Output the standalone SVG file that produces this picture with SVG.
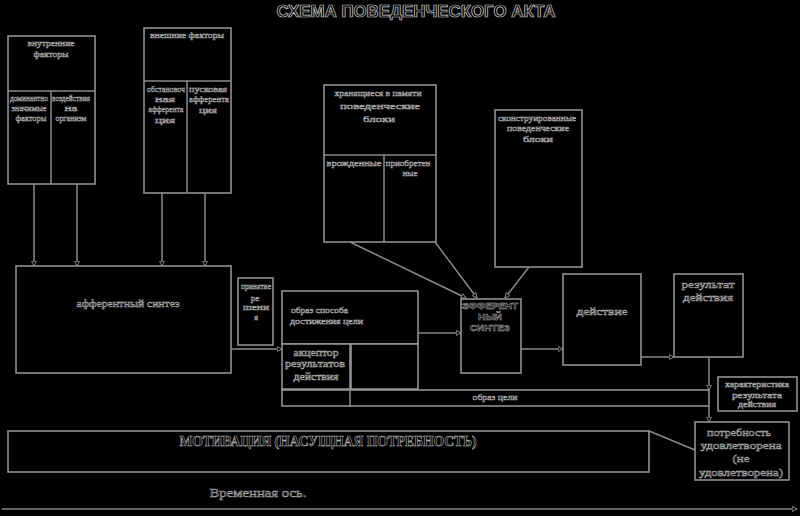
<svg xmlns="http://www.w3.org/2000/svg" width="800" height="516" viewBox="0 0 800 516">
<defs>
<style>
.bx{fill:#000;stroke:#9a9a9a;stroke-width:1.5}
.ln{fill:none;stroke:#8a8a8a;stroke-width:1.5}
.t{font-family:"Liberation Serif","DejaVu Serif",serif;font-size:9px;fill:#000;stroke:#b0b0b0;stroke-width:0.5;text-anchor:middle}
.tl{text-anchor:start}
.m{font-size:10.5px}
.s{font-size:9.5px}
.big{font-size:14px;font-weight:bold;stroke-width:0.6}
.ttl{font-family:"Liberation Sans","DejaVu Sans",sans-serif;font-size:16px;font-weight:bold;fill:#000;stroke:#d0d0d0;stroke-width:0.7;text-anchor:middle}
.sans{font-family:"Liberation Sans","DejaVu Sans",sans-serif;font-weight:bold;font-size:9.5px}
</style>
<marker id="ah" viewBox="0 0 10 10" refX="9" refY="5" markerWidth="6" markerHeight="6" orient="auto" markerUnits="userSpaceOnUse">
<path d="M1,1 L9,5 L1,9 Z" fill="#000" stroke="#9a9a9a" stroke-width="1.4"/>
</marker>
</defs>
<rect width="800" height="516" fill="#000"/>
<text class="ttl" x="416" y="17" textLength="279" lengthAdjust="spacingAndGlyphs">СХЕМА ПОВЕДЕНЧЕСКОГО АКТА</text>

<g id="internal">
<rect class="bx" x="8" y="36" width="87" height="148"/>
<line class="ln" x1="8" y1="91" x2="95" y2="91"/>
<line class="ln" x1="51" y1="91" x2="51" y2="184"/>
<text class="t" x="51" y="46" textLength="47" lengthAdjust="spacingAndGlyphs">внутренние</text>
<text class="t" x="51" y="57" textLength="35" lengthAdjust="spacingAndGlyphs">факторы</text>
<text class="t" x="29" y="101" textLength="38" lengthAdjust="spacingAndGlyphs">доминантно</text>
<text class="t" x="29" y="111" textLength="35" lengthAdjust="spacingAndGlyphs">значимые</text>
<text class="t" x="31" y="121" textLength="31" lengthAdjust="spacingAndGlyphs">факторы</text>
<text class="t" x="71" y="101" textLength="38" lengthAdjust="spacingAndGlyphs">воздействия</text>
<text class="t" x="71" y="111" textLength="13" lengthAdjust="spacingAndGlyphs">на</text>
<text class="t" x="71" y="121" textLength="31" lengthAdjust="spacingAndGlyphs">организм</text>
</g>

<g id="external">
<rect class="bx" x="144" y="28" width="87" height="165"/>
<line class="ln" x1="144" y1="81" x2="231" y2="81"/>
<line class="ln" x1="187" y1="81" x2="187" y2="193"/>
<text class="t" x="187" y="38" textLength="74" lengthAdjust="spacingAndGlyphs">внешние факторы</text>
<text class="t" x="166" y="92" textLength="38" lengthAdjust="spacingAndGlyphs">обстановоч</text>
<text class="t" x="165" y="102" textLength="20" lengthAdjust="spacingAndGlyphs">ная</text>
<text class="t" x="166" y="112" textLength="35" lengthAdjust="spacingAndGlyphs">афферента</text>
<text class="t" x="165" y="123" textLength="20" lengthAdjust="spacingAndGlyphs">ция</text>
<text class="t" x="208" y="92" textLength="38" lengthAdjust="spacingAndGlyphs">пусковая</text>
<text class="t" x="209" y="102" textLength="40" lengthAdjust="spacingAndGlyphs">афферента</text>
<text class="t" x="208" y="113" textLength="18" lengthAdjust="spacingAndGlyphs">ция</text>
</g>

<g id="memory">
<rect class="bx" x="324" y="85" width="112" height="157"/>
<line class="ln" x1="324" y1="155" x2="436" y2="155"/>
<line class="ln" x1="384" y1="155" x2="384" y2="242"/>
<text class="t" x="378" y="96" textLength="87" lengthAdjust="spacingAndGlyphs">хранящиеся в памяти</text>
<text class="t" x="380" y="109" textLength="80" lengthAdjust="spacingAndGlyphs">поведенческие</text>
<text class="t" x="379" y="122" textLength="32" lengthAdjust="spacingAndGlyphs">блоки</text>
<text class="t" x="354" y="166" textLength="55" lengthAdjust="spacingAndGlyphs">врожденные</text>
<text class="t" x="408" y="166" textLength="45" lengthAdjust="spacingAndGlyphs">приобретен</text>
<text class="t" x="410" y="176" textLength="15" lengthAdjust="spacingAndGlyphs">ные</text>
</g>

<g id="constructed">
<rect class="bx" x="495" y="110" width="87" height="157"/>
<text class="t" x="537" y="121" textLength="78" lengthAdjust="spacingAndGlyphs">сконструированные</text>
<text class="t" x="538" y="131" textLength="62" lengthAdjust="spacingAndGlyphs">поведенческие</text>
<text class="t" x="538" y="142" textLength="30" lengthAdjust="spacingAndGlyphs">блоки</text>
</g>

<g id="afferent">
<rect class="bx" x="16" y="266" width="215" height="107"/>
<text class="t m" x="128" y="307" textLength="103" lengthAdjust="spacingAndGlyphs">афферентный синтез</text>
</g>

<g id="decision">
<rect class="bx" x="238" y="278" width="35" height="67"/>
<text class="t" x="256" y="289" textLength="30" lengthAdjust="spacingAndGlyphs">принятие</text>
<text class="t" x="255" y="301">ре</text>
<text class="t" x="256" y="310" textLength="26" lengthAdjust="spacingAndGlyphs">шени</text>
<text class="t" x="256" y="320">я</text>
</g>

<g id="image">
<rect class="bx" x="282" y="291" width="136" height="53"/>
<text class="t tl" x="291" y="313" textLength="57" lengthAdjust="spacingAndGlyphs">образ способа</text>
<text class="t tl" x="290" y="324" textLength="73" lengthAdjust="spacingAndGlyphs">достижения цели</text>
</g>

<g id="acceptor">
<rect class="bx" x="282" y="344" width="68" height="45"/>
<rect class="bx" x="351" y="344" width="67" height="45"/>
<text class="t s" x="316" y="356" textLength="45" lengthAdjust="spacingAndGlyphs">акцептор</text>
<text class="t s" x="315" y="367" textLength="60" lengthAdjust="spacingAndGlyphs">результатов</text>
<text class="t s" x="316" y="380" textLength="45" lengthAdjust="spacingAndGlyphs">действия</text>
</g>

<g id="goal">
<rect class="bx" x="282" y="390" width="427" height="16"/>
<line class="ln" x1="350" y1="390" x2="350" y2="406"/>
<text class="t" x="495" y="400" textLength="45" lengthAdjust="spacingAndGlyphs">образ цели</text>
</g>

<g id="efferent">
<rect class="bx" x="461" y="299" width="60" height="74"/>
<text class="t sans" x="490" y="309" textLength="56" lengthAdjust="spacingAndGlyphs">ЭФФЕРЕНТ</text>
<text class="t sans" x="490" y="320" textLength="24" lengthAdjust="spacingAndGlyphs">НЫЙ</text>
<text class="t sans" x="490" y="331" textLength="40" lengthAdjust="spacingAndGlyphs">СИНТЕЗ</text>
</g>

<g id="action">
<rect class="bx" x="563" y="274" width="78" height="91"/>
<text class="t m" x="602" y="315" textLength="51" lengthAdjust="spacingAndGlyphs">действие</text>
</g>

<g id="result">
<rect class="bx" x="674" y="274" width="69" height="83"/>
<text class="t m" x="708" y="288" textLength="53" lengthAdjust="spacingAndGlyphs">результат</text>
<text class="t m" x="708" y="301" textLength="50" lengthAdjust="spacingAndGlyphs">действия</text>
</g>

<g id="params">
<rect class="bx" x="718" y="377" width="79" height="34"/>
<text class="t" x="757" y="387" textLength="64" lengthAdjust="spacingAndGlyphs">характеристика</text>
<text class="t" x="757" y="398" textLength="50" lengthAdjust="spacingAndGlyphs">результата</text>
<text class="t" x="757" y="407" textLength="38" lengthAdjust="spacingAndGlyphs">действия</text>
</g>

<g id="need">
<rect class="bx" x="695" y="422" width="94" height="58"/>
<text class="t m" x="739" y="436" textLength="64" lengthAdjust="spacingAndGlyphs">потребность</text>
<text class="t m" x="741" y="449" textLength="81" lengthAdjust="spacingAndGlyphs">удовлетворена</text>
<text class="t m" x="741" y="462" textLength="17" lengthAdjust="spacingAndGlyphs">(не</text>
<text class="t m" x="741" y="476" textLength="84" lengthAdjust="spacingAndGlyphs">удовлетворена)</text>
</g>

<g id="motivation">
<rect class="bx" x="8" y="431" width="641" height="41"/>
<text class="t big" x="328" y="446" textLength="297" lengthAdjust="spacingAndGlyphs">МОТИВАЦИЯ (НАСУЩНАЯ ПОТРЕБНОСТЬ)</text>
</g>

<g id="axis">
<text class="t" x="258" y="497" style="font-size:12px" textLength="97" lengthAdjust="spacingAndGlyphs">Временная ось.</text>
</g>

<g id="connectors">
<line class="ln" x1="34" y1="184" x2="34" y2="266" marker-end="url(#ah)"/>
<line class="ln" x1="77" y1="184" x2="77" y2="266" marker-end="url(#ah)"/>
<line class="ln" x1="162" y1="193" x2="162" y2="266" marker-end="url(#ah)"/>
<line class="ln" x1="205" y1="193" x2="205" y2="266" marker-end="url(#ah)"/>
<line class="ln" x1="231" y1="349" x2="282" y2="349" marker-end="url(#ah)"/>
<line class="ln" x1="350" y1="242" x2="466" y2="298" marker-end="url(#ah)"/>
<line class="ln" x1="435" y1="242" x2="477" y2="298" marker-end="url(#ah)"/>
<line class="ln" x1="529" y1="267" x2="505" y2="298" marker-end="url(#ah)"/>
<line class="ln" x1="418" y1="333" x2="461" y2="333" marker-end="url(#ah)"/>
<line class="ln" x1="521" y1="349" x2="563" y2="349" marker-end="url(#ah)"/>
<line class="ln" x1="641" y1="357" x2="674" y2="357" marker-end="url(#ah)"/>
<line class="ln" x1="709" y1="357" x2="709" y2="390" marker-end="url(#ah)"/>
<line class="ln" x1="709" y1="406" x2="709" y2="422" marker-end="url(#ah)"/>
<line class="ln" x1="649" y1="431" x2="695" y2="450"/>
<line class="ln" x1="2" y1="509" x2="797" y2="509" marker-end="url(#ah)"/>
</g>
</svg>
